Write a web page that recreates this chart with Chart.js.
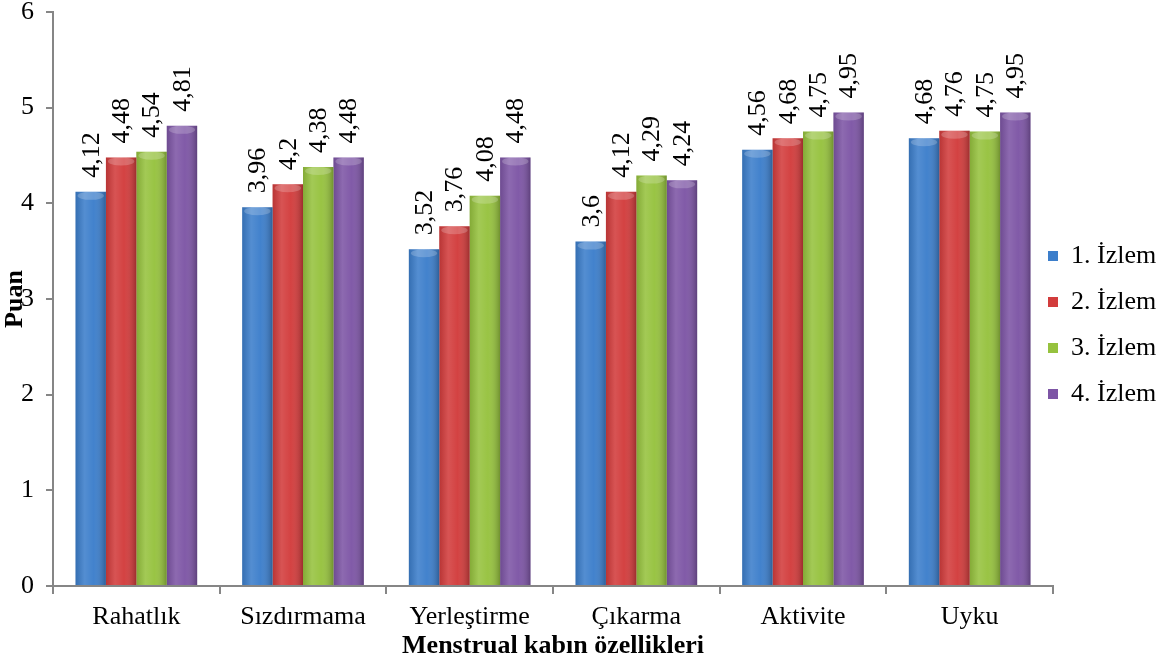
<!DOCTYPE html>
<html lang="tr">
<head>
    <meta charset="UTF-8">
    <title>Menstrual kabın özellikleri</title>
    <script src="https://cdn.jsdelivr.net/npm/chart.js"></script>
    <style>
        body {
            margin: 0;
            background: #fff;
        }
        #wrap {
            width: 1175px;
            height: 666px;
        }
    </style>
</head>
<body>
    <div id="wrap"><canvas id="puanChart"></canvas></div>

    <script>
        const categories = ['Rahatlık', 'Sızdırmama', 'Yerleştirme', 'Çıkarma', 'Aktivite', 'Uyku'];
        const seriesNames = ['1. İzlem', '2. İzlem', '3. İzlem', '4. İzlem'];
        const izlem1 = [4.12, 3.96, 3.52, 3.6, 4.56, 4.68];
        const izlem2 = [4.48, 4.2, 3.76, 4.12, 4.68, 4.76];
        const izlem3 = [4.54, 4.38, 4.08, 4.29, 4.75, 4.75];
        const izlem4 = [4.81, 4.48, 4.48, 4.24, 4.95, 4.95];
        const yTicks = [0, 1, 2, 3, 4, 5, 6];

        const colors = ['#3c7ecb', '#d23c3c', '#96c23e', '#7d55a5'];
        const serif = "'Liberation Serif', 'Times New Roman', serif";
        const axisGray = '#868686';

        // legend: keep it narrow and put it where the original sits
        const legendFix = {
            id: 'legendFix',
            beforeInit(chart) {
                const lg = chart.legend;
                const fit = lg.fit;
                lg.fit = function () {
                    fit.call(this);
                    this.width = 122;
                };
            },
            afterLayout(chart) {
                const lg = chart.legend;
                lg.left = 1028;
                lg.right = 1175;
                lg.top = 14;
                lg.bottom = 636;
            }
        };

        // cylinder-ish shading on every bar
        const barShade = {
            id: 'barShade',
            afterDatasetsDraw(chart) {
                const ctx = chart.ctx;
                ctx.save();
                chart.data.datasets.forEach((ds, i) => {
                    chart.getDatasetMeta(i).data.forEach(bar => {
                        const left = bar.x - bar.width / 2;
                        const g = ctx.createLinearGradient(left, 0, left + bar.width, 0);
                        g.addColorStop(0, 'rgba(0,0,0,0.12)');
                        g.addColorStop(0.3, 'rgba(255,255,255,0.12)');
                        g.addColorStop(0.6, 'rgba(255,255,255,0.03)');
                        g.addColorStop(1, 'rgba(0,0,0,0.25)');
                        ctx.fillStyle = g;
                        ctx.fillRect(left, bar.y, bar.width, bar.base - bar.y);
                        ctx.beginPath();
                        ctx.ellipse(bar.x, bar.y + 4, bar.width / 2 - 2, 4, 0, 0, Math.PI * 2);
                        ctx.fillStyle = 'rgba(255,255,255,0.2)';
                        ctx.fill();
                    });
                });
                ctx.restore();
            }
        };

        // rotated value labels above the bars
        const valueLabels = {
            id: 'valueLabels',
            afterDatasetsDraw(chart) {
                const ctx = chart.ctx;
                ctx.save();
                ctx.font = '26px ' + serif;
                ctx.fillStyle = '#000';
                ctx.textAlign = 'left';
                ctx.textBaseline = 'middle';
                chart.data.datasets.forEach((ds, i) => {
                    chart.getDatasetMeta(i).data.forEach((bar, j) => {
                        ctx.save();
                        ctx.translate(bar.x + 1, bar.y - 14);
                        ctx.rotate(-Math.PI / 2);
                        ctx.fillText(String(ds.data[j]).replace('.', ','), 0, 0);
                        ctx.restore();
                    });
                });
                ctx.restore();
            }
        };

        const ctx = document.getElementById('puanChart').getContext('2d');
        new Chart(ctx, {
            type: 'bar',
            data: {
                labels: categories,
                datasets: [izlem1, izlem2, izlem3, izlem4].map((d, i) => ({
                    label: seriesNames[i],
                    data: d,
                    backgroundColor: colors[i],
                    borderWidth: 0,
                    barPercentage: 1,
                    categoryPercentage: 0.73
                }))
            },
            options: {
                responsive: true,
                maintainAspectRatio: false,
                animation: false,
                layout: { padding: { top: 12 } },
                plugins: {
                    tooltip: { enabled: false },
                    legend: {
                        position: 'right',
                        labels: {
                            boxWidth: 10,
                            boxHeight: 10,
                            padding: 20,
                            color: '#000',
                            font: { family: serif, size: 26 }
                        }
                    }
                },
                scales: {
                    x: {
                        afterFit(scale) { scale.height = 80; },
                        grid: {
                            offset: true,
                            drawOnChartArea: false,
                            tickLength: 8,
                            color: axisGray,
                            lineWidth: 2
                        },
                        border: { color: axisGray, width: 2 },
                        ticks: {
                            color: '#000',
                            padding: 8,
                            font: { family: serif, size: 26 }
                        },
                        title: {
                            display: true,
                            text: 'Menstrual kabın özellikleri',
                            color: '#000',
                            padding: { top: 0, bottom: 4 },
                            font: { family: serif, size: 26, weight: 'bold' }
                        }
                    },
                    y: {
                        min: 0,
                        max: 6,
                        afterFit(scale) {
                            scale.width = 53;
                            scale.paddingTop = 0;
                            scale.paddingBottom = 0;
                        },
                        afterBuildTicks(scale) {
                            scale.ticks = yTicks.map(v => ({ value: v }));
                        },
                        grid: {
                            drawOnChartArea: false,
                            tickLength: 7,
                            color: axisGray,
                            lineWidth: 2
                        },
                        border: { color: axisGray, width: 2 },
                        ticks: {
                            color: '#000',
                            padding: 12,
                            font: { family: serif, size: 26 }
                        },
                        title: {
                            display: true,
                            text: 'Puan',
                            color: '#000',
                            padding: 0,
                            font: { family: serif, size: 26, weight: 'bold' }
                        }
                    }
                }
            },
            plugins: [legendFix, barShade, valueLabels]
        });
    </script>
</body>
</html>
